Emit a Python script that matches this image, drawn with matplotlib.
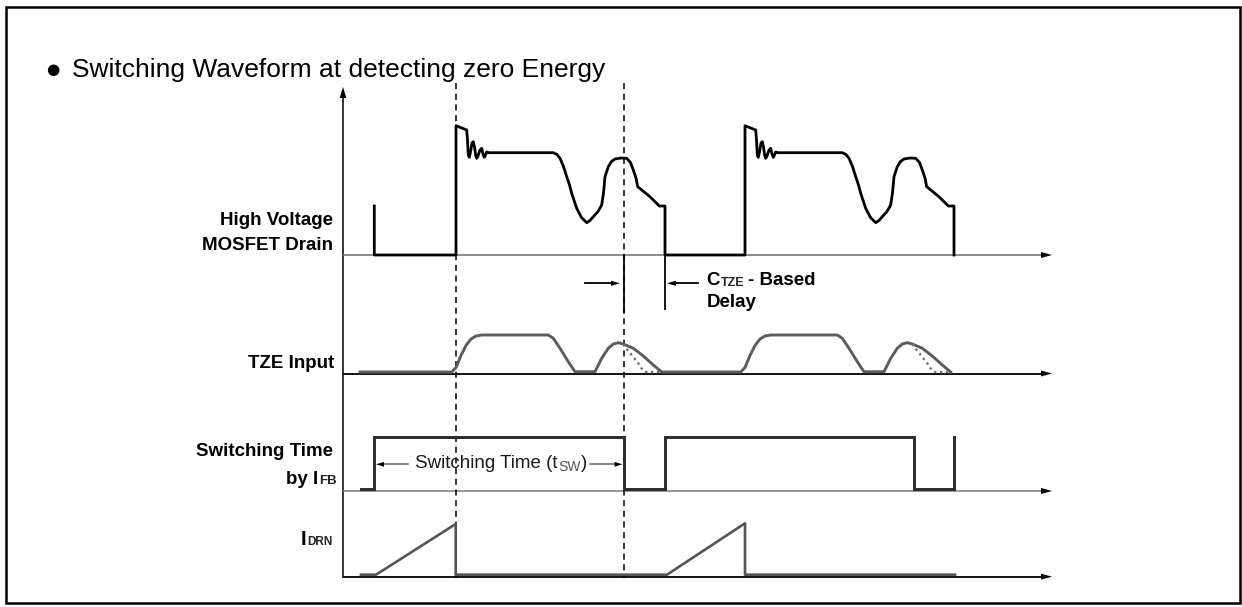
import matplotlib
matplotlib.use("Agg")
import matplotlib.pyplot as plt
from matplotlib.transforms import blended_transform_factory
from matplotlib.patches import Polygon, Rectangle

# ---------------- data (time in arbitrary units, levels in arbitrary units) -------------
T_RISE = [113, 402]            # drain rising edges (MOSFET turn-off)
T_FALL = [31.3, 322, 611.3]    # drain falling edges (MOSFET turn-on)
T_ZERO = [280.5, 571.3]        # zero-energy detection instants
DRAIN_START_LEVEL = 49

# one drain cycle, relative to its rising edge
DRAIN_SHAPE_T = [0, 0, 10.7, 11.5, 12.3, 13.3, 14.5, 16, 17.3, 18.5, 19.8, 20.7, 22,
                 24, 25.7, 27, 28.3, 29.5, 30.7, 33, 97.3, 101, 104,
                 107.5, 110.7, 113.5, 115.7, 120.7, 125.5, 130.7, 134, 137.3, 142,
                 145.7, 147.5, 149, 152.3, 155.5, 159, 165, 170.7, 174.5, 177.3, 180,
                 181.7, 194, 203.3, 209, 209]
DRAIN_SHAPE_V = [0, 129.3, 125, 115, 100, 97.7, 103, 112, 113.3, 108, 99, 96.7, 99,
                 105, 106.7, 101, 97.7, 100, 103, 102.3, 102.3,
                 100.5, 96.7, 88.5, 78.3, 70, 61.7, 46.7, 37.5, 32.3, 34.5, 38.3,
                 43.5, 50, 62, 78.3, 88.3, 93.5, 96, 97, 96.7, 92.5, 85, 77, 68.3,
                 58.3, 49, 49, 0]

# TZE input, one cycle relative to the drain rising edge
TZE_START = 17
TZE_LOW = 1.5
TZE_SHAPE_T = [-4.3, 0, 5, 10, 15, 20, 25.7, 92.3, 97.3, 104, 112.3, 119, 139, 145.7,
               152.3, 157.3, 162.3, 167.3, 177.3, 187.3, 197.3, 205.7]
TZE_SHAPE_V = [1.5, 6, 18, 28, 34.5, 37.5, 38.5, 38.5, 35.2, 25.2, 11.8, 1.8, 1.8,
               15.2, 25.2, 29.5, 30.8, 29.5, 25.2, 17.5, 8.5, 1.5]
TZE_ALT_T = [167.3, 169, 175.7, 182.3, 186.7, 190, 204]
TZE_ALT_V = [29.5, 26.5, 18.5, 10.2, 3.5, 1.5, 1.5]

# switching time by IFB
SW_T = [18, 31.3, 31.3, 280.5, 280.5, 322, 322, 571.3, 571.3, 611.3, 611.3]
SW_V = [2, 2, 54, 54, 2, 2, 54, 54, 2, 2, 54]

# drain current
IDRN_T = [18, 33, 112.7, 112.7, 324, 402, 402, 612]
IDRN_V = [2, 2, 52.7, 2, 2, 53.4, 2, 2]

TITLE = "Switching Waveform at detecting zero Energy"

# ---------------- layout -------------
W, H = 1242, 607
X_AXIS, X_ARROW = 343, 1052
T_SPAN = X_ARROW - X_AXIS
FONT = ["Liberation Sans", "DejaVu Sans"]
plt.rcParams["font.family"] = FONT

fig = plt.figure(figsize=(W / 100, H / 100), dpi=100)
canvas = fig.add_axes([0, 0, 1, 1])
canvas.set_xlim(0, W)
canvas.set_ylim(H, 0)
canvas.axis("off")


def panel(base, top):
    ax = fig.add_axes([X_AXIS / W, 1 - base / H, (X_ARROW - X_AXIS) / W, (base - top) / H])
    ax.set_xlim(0, T_SPAN)
    ax.set_ylim(0, base - top)
    ax.axis("off")
    ax.patch.set_visible(False)
    return ax


BASE_DRAIN, BASE_TZE, BASE_SW, BASE_IDRN = 255, 373.5, 491, 576.7
ax_d = panel(BASE_DRAIN, 87)
ax_t = panel(BASE_TZE, 300)
ax_s = panel(BASE_SW, 420)
ax_i = panel(BASE_IDRN, 510)


def head(tip_x, tip_y, dx, dy, length=11, half=3.2, color="k"):
    bx, by = tip_x - dx * length, tip_y - dy * length
    px, py = -dy * half, dx * half
    canvas.add_patch(Polygon([[tip_x, tip_y], [bx + px, by + py], [bx - px, by - py]],
                             closed=True, color=color, lw=0, zorder=5))


# border
canvas.add_patch(Rectangle((5.5, 6.5), 1234.5, 596, fill=False, ec="k", lw=1.8))

# vertical axis
canvas.plot([X_AXIS, X_AXIS], [578, 96], color="k", lw=1.1, solid_capstyle="butt")
head(X_AXIS, 87, 0, -1, length=11, half=3.3)

# baselines with arrows
for y, col, lw in [(BASE_DRAIN, "#707070", 1.1), (BASE_TZE, "#111111", 1.4),
                   (BASE_SW, "#7a7a7a", 1.1), (BASE_IDRN, "#111111", 1.4)]:
    canvas.plot([X_AXIS, X_ARROW - 9], [y, y], color=col, lw=lw, solid_capstyle="butt")
    head(X_ARROW, y, 1, 0, length=11, half=3.0)

# dashed event lines
tr = blended_transform_factory(ax_d.transData, canvas.transData)
for t in (T_RISE[0], T_ZERO[0]):
    canvas.plot([t, t], [83, 578], transform=tr, color="k", lw=1.1, ls=(0, (4, 3)))
canvas.plot([T_ZERO[0], T_ZERO[0]], [BASE_DRAIN, 312], transform=tr, color="k", lw=1.3)
canvas.plot([T_FALL[1], T_FALL[1]], [BASE_DRAIN, 309], transform=tr, color="k", lw=1.3)

# ---------------- waveforms -------------
dt = [T_FALL[0], T_FALL[0]]
dv = [DRAIN_START_LEVEL, 0]
for r in T_RISE:
    dt += [r + s for s in DRAIN_SHAPE_T]
    dv += DRAIN_SHAPE_V
ax_d.plot(dt, dv, color="k", lw=2.0, clip_on=False, solid_joinstyle="round")

tt = [TZE_START]
tv = [TZE_LOW]
for r in T_RISE:
    tt += [r + s for s in TZE_SHAPE_T]
    tv += TZE_SHAPE_V
ax_t.plot(tt, tv, color="#5c5c5c", lw=2.1, clip_on=False)
for r in T_RISE:
    ax_t.plot([r + s for s in TZE_ALT_T], TZE_ALT_V, color="#6f6f6f", lw=1.7,
              ls=(0, (1, 1.5)), clip_on=False)

ax_s.plot(SW_T, SW_V, color="#2b2b2b", lw=2.1, clip_on=False, solid_joinstyle="miter")
ax_i.plot(IDRN_T, IDRN_V, color="#555555", lw=1.9, clip_on=False)

# ---------------- texts -------------
renderer = fig.canvas.get_renderer()


def run(x, y, parts, ha="left"):
    arts = []
    for s, fs, wt, col, dy, gap in parts:
        t = canvas.text(0, y + dy, s, fontsize=fs, fontweight=wt, color=col,
                        ha="left", va="baseline")
        w = t.get_window_extent(renderer).width
        arts.append((t, w, gap))
    total = sum(w + g for _, w, g in arts)
    x0 = x - total if ha == "right" else x
    for t, w, g in arts:
        x0 += g
        t.set_x(x0)
        x0 += w


LBL = 13.5
canvas.text(333, 225, "High Voltage", fontsize=LBL, fontweight="bold", ha="right", va="baseline")
canvas.text(333, 250, "MOSFET Drain", fontsize=LBL, fontweight="bold", ha="right", va="baseline")
canvas.text(334, 368.3, "TZE Input", fontsize=LBL, fontweight="bold", ha="right", va="baseline")
canvas.text(333, 456, "Switching Time", fontsize=LBL, fontweight="bold", ha="right", va="baseline")
run(336.5, 484.5, [("by I", LBL, "bold", "k", 0, 0), ("FB", 9.5, "bold", "#222222", 0, 1)], ha="right")
run(333, 545, [("I", LBL + 1, "bold", "k", 0, 0), ("DRN", 8.5, "bold", "#222222", 0, 1)], ha="right")

run(706.7, 285, [("C", LBL, "bold", "k", 0, 0), ("TZE", 9, "bold", "#222222", 1.5, 1),
                 ("- Based", LBL, "bold", "k", 0, 3)])
canvas.text(706.7, 306.7, "Delay", fontsize=LBL, fontweight="bold", va="baseline")

run(415, 468, [("Switching Time (t", 13.5, "normal", "#1a1a1a", 0, 0),
               ("SW", 10, "normal", "#555555", 3, 0.5),
               (")", 13.5, "normal", "#1a1a1a", 0, 0.5)])

# delay arrows
canvas.plot([585, 612], [283.3, 283.3], color="k", lw=1.3)
head(620, 283.3, 1, 0, length=9, half=2.6)
canvas.plot([698, 675], [283.3, 283.3], color="k", lw=1.3)
head(667, 283.3, -1, 0, length=9, half=2.6)

# switching time arrows
canvas.plot([408, 382], [464.3, 464.3], color="#666666", lw=1.1)
head(376, 464.3, -1, 0, length=8, half=2.4)
canvas.plot([590, 616], [464.3, 464.3], color="#666666", lw=1.1)
head(622.5, 464.3, 1, 0, length=8, half=2.4)

# title
canvas.text(53, 73.5, "\u25CF", fontsize=11, family="DejaVu Sans", ha="center", va="baseline")
canvas.text(72, 76.5, TITLE, fontsize=19, ha="left", va="baseline")

canvas.set_xlim(0, W)
canvas.set_ylim(H, 0)
fig.savefig("out.png", dpi=100)
